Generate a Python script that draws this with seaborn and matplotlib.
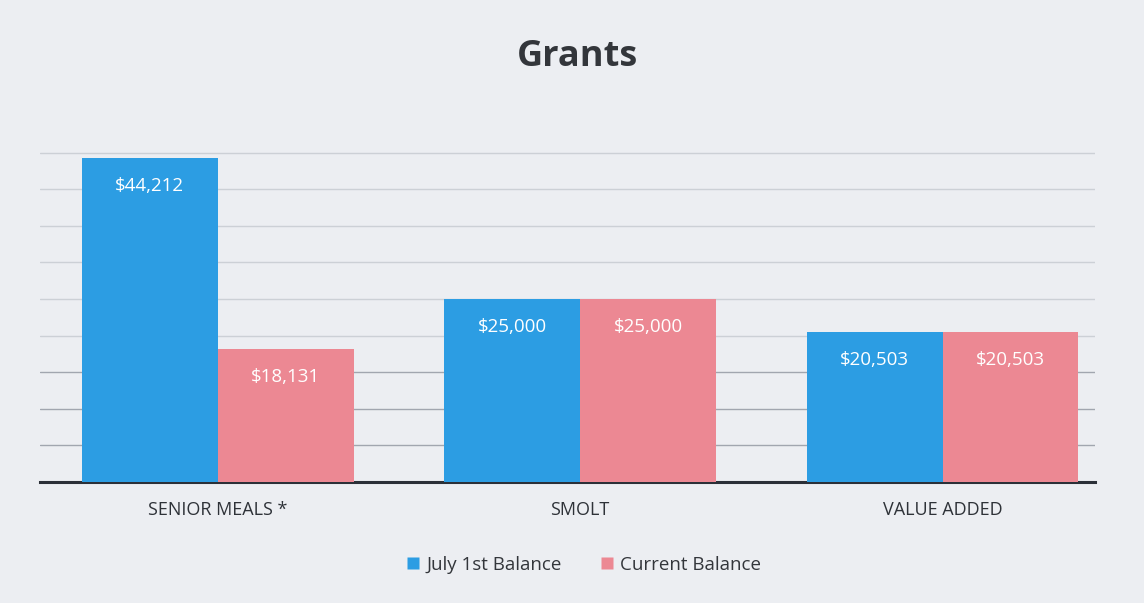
import pandas as pd
import numpy as np
import seaborn as sns
import matplotlib.pyplot as plt

categories = ["SENIOR MEALS *", "SMOLT", "VALUE ADDED"]
july_balance = [44212, 25000, 20503]
current_balance = [18131, 25000, 20503]
series_names = ["July 1st Balance", "Current Balance"]

df = pd.DataFrame({
    "grant": categories * 2,
    "series": [series_names[0]] * 3 + [series_names[1]] * 3,
    "amount": july_balance + current_balance,
})

sns.set_theme(style="white")
plt.rcParams['font.family'] = ['Open Sans', 'DejaVu Sans']

bg = "#eceef2"
fig = plt.figure(figsize=(11.44, 6.03), dpi=100, facecolor=bg)
ax = fig.add_axes([0.035, 0.2007, 0.922, 0.6069])
ax.set_facecolor("none")

palette = {series_names[0]: "#2c9de3", series_names[1]: "#ec8893"}
sns.barplot(data=df, x="grant", y="amount", hue="series", palette=palette,
            width=0.75, saturation=1, ax=ax, legend=False, zorder=3,
            linewidth=0, edgecolor="none")

# faint horizontal gridlines every 5000, fading out higher up like the scan
for yv in np.arange(5000, 50000, 5000):
    a = 0.6 if yv <= 15000 else 0.25
    ax.axhline(yv, color="#6f7783", lw=1.0, alpha=a, zorder=1)

ax.set_ylim(0, 50000)
ax.set_xlim(-0.49, 2.42)
ax.set_yticks([])
ax.set_xlabel("")
ax.set_ylabel("")
for s in ["top", "right", "left"]:
    ax.spines[s].set_visible(False)
ax.spines["bottom"].set_color("#2b3038")
ax.spines["bottom"].set_linewidth(2.2)
ax.tick_params(axis="x", length=0, pad=14, labelsize=13, labelcolor="#2e3238")

for cont in ax.containers:
    for bar in cont:
        h = bar.get_height()
        ax.text(bar.get_x() + bar.get_width() / 2, h - 3800, f"${h:,.0f}",
                ha="center", va="center", color="white", fontsize=13.5, zorder=4)

fig.text(0.505, 0.905, "Grants", ha="center", va="center", fontsize=26,
         fontweight="bold", color="#33363b")

handles = [plt.Line2D([], [], marker="s", ls="", markersize=8,
                      markerfacecolor=palette[n], markeredgecolor="none") for n in series_names]
fig.legend(handles, series_names, loc="center", bbox_to_anchor=(0.51, 0.063), ncol=2,
           frameon=False, fontsize=13.5, handlelength=0.8, handletextpad=0.3,
           columnspacing=2.0, labelcolor="#33363b")

fig.savefig("out.png", dpi=100, facecolor=bg)
